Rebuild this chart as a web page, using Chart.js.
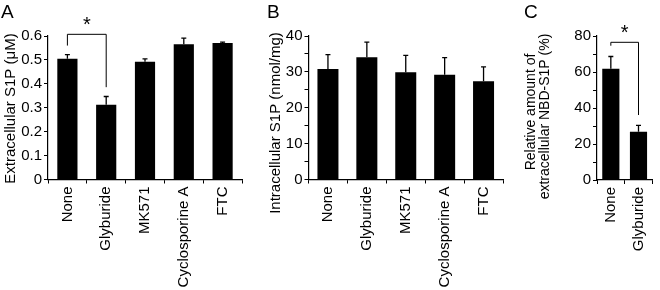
<!DOCTYPE html>
<html>
<head>
<meta charset="utf-8">
<script src="https://cdn.jsdelivr.net/npm/chart.js@4"></script>
<style>
  body { margin: 0; background: #fff; width: 660px; height: 290px; position: relative; overflow: hidden; }
  .panel { position: absolute; top: 0; height: 290px; }
</style>
</head>
<body>
<div class="panel" style="left:0;width:250px"><canvas id="chartA"></canvas></div>
<div class="panel" style="left:250px;width:260px"><canvas id="chartB"></canvas></div>
<div class="panel" style="left:510px;width:150px"><canvas id="chartC"></canvas></div>
<script>
// panel A - extracellular S1P
const treatments = ['None', 'Glyburide', 'MK571', 'Cyclosporine A', 'FTC'];
const extracellular = [0.505, 0.313, 0.492, 0.566, 0.571];
const extracellularErr = [0.017, 0.034, 0.012, 0.025, 0.003];

// panel B - intracellular S1P
const intracellular = [30.8, 34.1, 29.9, 29.2, 27.4];
const intracellularErr = [4.0, 4.2, 4.7, 4.8, 4.0];

// panel C - NBD-S1P
const treatmentsC = ['None', 'Glyburide'];
const nbdS1P = [61.8, 26.8];
const nbdS1PErr = [6.8, 3.6];

const FONT = "'Liberation Sans', Arial, Helvetica, sans-serif";
Chart.defaults.font.family = FONT;
Chart.defaults.font.size = 15;
Chart.defaults.color = '#000';

// error bars, significance brackets and free text
const annotate = {
  id: 'annotate',
  afterDatasetsDraw(chart, args, opts) {
    const ctx = chart.ctx;
    const xs = chart.scales.x, ys = chart.scales.y;
    const meta = chart.getDatasetMeta(0);
    const vals = chart.data.datasets[0].data;
    ctx.save();
    ctx.strokeStyle = '#000';
    ctx.fillStyle = '#000';
    ctx.lineWidth = 1.3;
    meta.data.forEach((bar, i) => {
      const top = ys.getPixelForValue(vals[i] + opts.errors[i]);
      ctx.beginPath();
      ctx.moveTo(bar.x, bar.y);
      ctx.lineTo(bar.x, top);
      ctx.moveTo(bar.x - 2.5, top);
      ctx.lineTo(bar.x + 2.5, top);
      ctx.stroke();
    });
    (opts.brackets || []).forEach(b => {
      const x1 = xs.getPixelForValue(b.from), x2 = xs.getPixelForValue(b.to);
      const yt = ys.getPixelForValue(b.top);
      ctx.lineWidth = 1;
      ctx.beginPath();
      ctx.moveTo(x1, ys.getPixelForValue(b.leftEnd));
      ctx.lineTo(x1, yt);
      ctx.lineTo(x2, yt);
      ctx.lineTo(x2, ys.getPixelForValue(b.rightEnd));
      ctx.stroke();
      ctx.font = '20px ' + FONT;
      ctx.textAlign = 'center';
      ctx.textBaseline = 'alphabetic';
      ctx.fillText('*', (x1 + x2) / 2, yt - 3);
    });
    (opts.texts || []).forEach(t => {
      ctx.save();
      ctx.font = t.size + 'px ' + FONT;
      ctx.translate(t.x, t.y);
      if (t.rotate) {
        ctx.rotate(-Math.PI / 2);
        ctx.textAlign = 'center';
        ctx.textBaseline = 'middle';
      } else {
        ctx.textAlign = 'left';
        ctx.textBaseline = 'alphabetic';
      }
      ctx.fillText(t.text, 0, 0);
      ctx.restore();
    });
    ctx.restore();
  }
};

function makeChart(id, labels, values, errors, cfg) {
  return new Chart(document.getElementById(id), {
    type: 'bar',
    data: {
      labels: labels,
      datasets: [{
        data: values,
        backgroundColor: '#000',
        borderWidth: 0,
        barPercentage: cfg.barPct,
        categoryPercentage: 1
      }]
    },
    options: {
      responsive: true,
      maintainAspectRatio: false,
      animation: false,
      layout: { padding: { left: 0, top: 36, right: cfg.padRight, bottom: 0 } },
      scales: {
        x: {
          grid: { drawOnChartArea: false, drawTicks: true, tickLength: 4, color: '#000', offset: true },
          border: { color: '#000', width: 1.2 },
          ticks: { minRotation: 90, maxRotation: 90, padding: 3, autoSkip: false, font: { size: 15 } },
          afterFit: s => { s.height = cfg.xHeight; }
        },
        y: {
          min: 0,
          max: cfg.max,
          grid: { drawOnChartArea: false, drawTicks: true, tickLength: 4, color: '#000' },
          border: { color: '#000', width: 1.2 },
          ticks: {
            stepSize: cfg.step,
            autoSkip: false,
            padding: 2,
            font: { size: 15 },
            callback: cfg.tickLabel
          },
          afterFit: s => { s.width = cfg.yWidth; }
        }
      },
      plugins: {
        legend: { display: false },
        tooltip: { enabled: false },
        annotate: { errors: errors, brackets: cfg.brackets, texts: cfg.texts }
      }
    },
    plugins: [annotate]
  });
}

makeChart('chartA', treatments, extracellular, extracellularErr, {
  barPct: 0.52, padRight: 8, xHeight: 110.5, yWidth: 48, max: 0.6, step: 0.1,
  tickLabel: v => String(Math.round(v * 10) / 10),
  brackets: [{ from: 0, to: 1, top: 0.607, leftEnd: 0.56, rightEnd: 0.386 }],
  texts: [
    { text: 'A', x: 1, y: 18, size: 19 },
    { text: 'Extracellular S1P (\u03bcM)', x: 10.5, y: 108.5, size: 15, rotate: true }
  ]
});

makeChart('chartB', treatments, intracellular, intracellularErr, {
  barPct: 0.54, padRight: 7, xHeight: 110.5, yWidth: 58.5, max: 40, step: 5,
  tickLabel: v => (v % 10 === 0 ? v : ''),
  texts: [
    { text: 'B', x: 17, y: 18, size: 19 },
    { text: 'Intracellular S1P (nmol/mg)', x: 25.5, y: 123, size: 15, rotate: true }
  ]
});

makeChart('chartC', treatmentsC, nbdS1P, nbdS1PErr, {
  barPct: 0.62, padRight: 2, xHeight: 110, yWidth: 87, max: 80, step: 10,
  tickLabel: v => (v % 20 === 0 ? v : ''),
  brackets: [{ from: 0, to: 1, top: 76.5, leftEnd: 74.6, rightEnd: 36.1 }],
  texts: [
    { text: 'C', x: 14, y: 18, size: 19 },
    { text: 'Relative amount of', x: 21, y: 112, size: 14, rotate: true },
    { text: 'extracellular NBD-S1P (%)', x: 35.5, y: 116.5, size: 14, rotate: true }
  ]
});
</script>
</body>
</html>
